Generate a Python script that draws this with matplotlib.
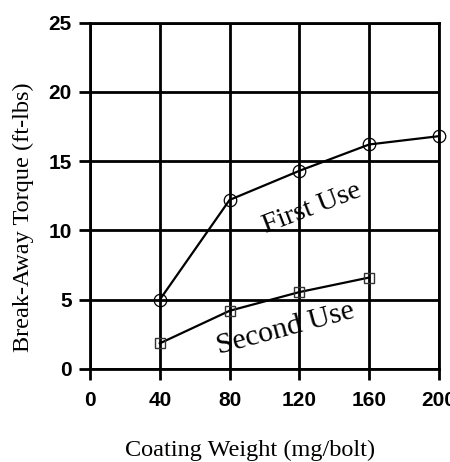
import matplotlib
matplotlib.use("Agg")
import matplotlib.pyplot as plt

weight = [40, 80, 120, 160, 200]
first_use = [5.0, 12.2, 14.3, 16.2, 16.8]
weight2 = [40, 80, 120, 160]
second_use = [1.85, 4.2, 5.55, 6.6]

xticks = [0, 40, 80, 120, 160, 200]
yticks = [0, 5, 10, 15, 20, 25]

fig = plt.figure(figsize=(4.5, 4.62), dpi=100)
ax = fig.add_axes([90/450, 1 - 369/462, 349/450, 346.5/462])

ax.plot(weight, first_use, 'k-', lw=1.6, marker='o', ms=9, mfc='none',
        mec='k', mew=0.9, zorder=3, clip_on=False)
ax.plot(weight2, second_use, 'k-', lw=1.6, marker='s', ms=7.5, mfc='none',
        mec='#333333', mew=1.0, zorder=3)

ax.set_xlim(0, 200)
ax.set_ylim(0, 25)
ax.set_xticks(xticks)
ax.set_yticks(yticks)
ax.grid(True, color='k', lw=2.0)
for s in ax.spines.values():
    s.set_linewidth(2.0)
ax.tick_params(direction='out', length=8, width=2.0, labelsize=15)
ax.tick_params(axis='x', pad=8)
ax.tick_params(axis='y', pad=5)
for lab in ax.get_xticklabels() + ax.get_yticklabels():
    lab.set_fontweight('bold')
    lab.set_fontfamily('Liberation Sans')

ax.set_xlabel('Coating Weight (mg/bolt)', fontfamily='Liberation Serif', fontsize=17.5)
ax.xaxis.set_label_coords(0.458, -0.236)
ax.xaxis.label.set_va('center')
ax.set_ylabel('Break-Away Torque (ft-lbs)', fontfamily='Liberation Serif', fontsize=17.5)
ax.yaxis.set_label_coords(-0.19, 0.437)
ax.yaxis.label.set_va('center')

ax.text(127, 11.6, 'First Use', fontfamily='Liberation Serif', fontsize=20.5,
        rotation=21, ha='center', va='center')
ax.text(112, 2.9, 'Second Use', fontfamily='Liberation Serif', fontsize=21.5,
        rotation=15, ha='center', va='center')

fig.savefig('out.png', dpi=100)
